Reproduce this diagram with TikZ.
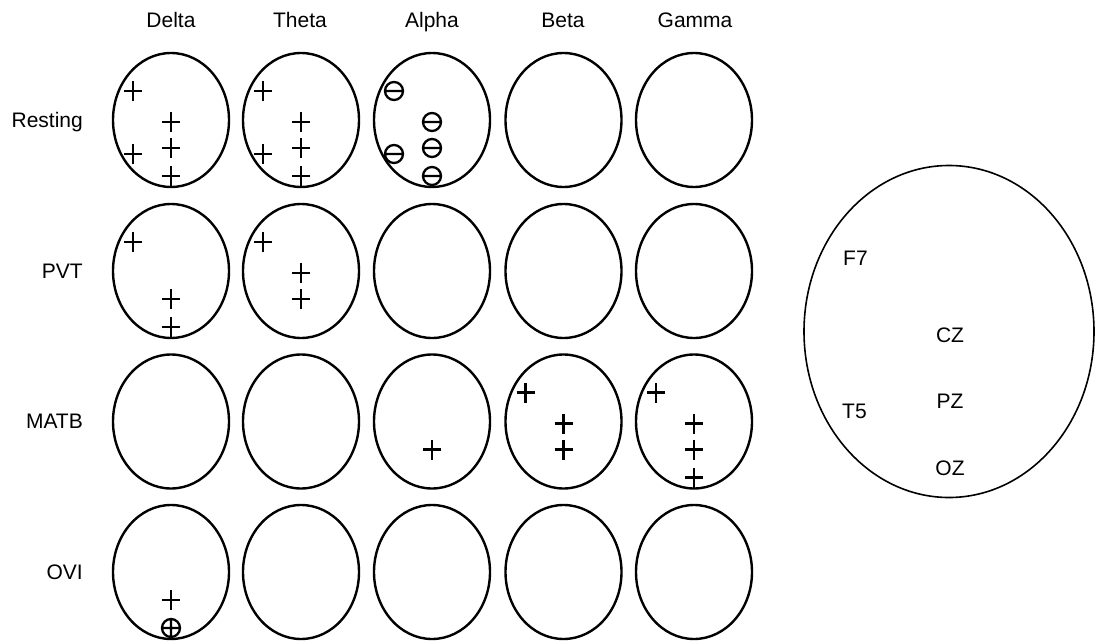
\documentclass[tikz,border=0pt]{standalone}
\usepackage{fontspec}
\setmainfont{Liberation Sans}
\usetikzlibrary{shapes.geometric}
\tikzset{
  head/.style={draw, ellipse, line width=2.4pt, minimum width=116pt, minimum height=134pt, inner sep=0pt},
  bighead/.style={draw, ellipse, line width=1.6pt, minimum width=290pt, minimum height=332pt, inner sep=0pt},
  lbl/.style={font=\fontsize{21}{24}\selectfont, inner sep=0pt},
  pls/.pic={\draw[line width=2.6pt] (-9pt,0)--(9pt,0) (0,-10pt)--(0,10pt);},
  mns/.pic={\draw[line width=2.3pt] (0,0) circle (9pt) (-9pt,0)--(9pt,0);},
  opls/.pic={\draw[line width=2.3pt] (0,0) circle (9pt) (-9pt,0)--(9pt,0) (0,-9pt)--(0,9pt);}
}
\newcommand\elec[3]{\path ([shift={#2}]#1.center) pic {#3};}
\def\Fs{(-38pt,29pt)}
\def\Cz{(0pt,-2pt)}
\def\Pz{(0pt,-28pt)}
\def\Tf{(-38pt,-34pt)}
\def\Oz{(0pt,-56pt)}
\begin{document}
\begin{tikzpicture}[x=1pt,y=-1pt]
\useasboundingbox (0,0) rectangle (1098,642);
% column headers
\node[lbl, anchor=base] (hDelta) at (171,28) {Delta};
\node[lbl, anchor=base] (hTheta) at (300,28) {Theta};
\node[lbl, anchor=base] (hAlpha) at (432,28) {Alpha};
\node[lbl, anchor=base] (hBeta) at (563,28) {Beta};
\node[lbl, anchor=base] (hGamma) at (695,28) {Gamma};
% row labels
\node[lbl, anchor=base east] (lRest) at (83,127) {Resting};
\node[lbl, anchor=base east] (lPVT) at (83,278) {PVT};
\node[lbl, anchor=base east] (lMATB) at (83,428) {MATB};
\node[lbl, anchor=base east] (lOVI) at (83,579) {OVI};
% heads
\foreach \r/\y in {1/120,2/271,3/421.5,4/572}{
  \foreach \c/\x in {1/171,2/301,3/432,4/563.5,5/694}{
    \node[head] (h\r\c) at (\x,\y) {};
  }
}
% Resting
\elec{h11}{\Fs}{pls}\elec{h11}{\Cz}{pls}\elec{h11}{\Tf}{pls}\elec{h11}{\Pz}{pls}\elec{h11}{\Oz}{pls}
\elec{h12}{\Fs}{pls}\elec{h12}{\Cz}{pls}\elec{h12}{\Tf}{pls}\elec{h12}{\Pz}{pls}\elec{h12}{\Oz}{pls}
\elec{h13}{\Fs}{mns}\elec{h13}{\Cz}{mns}\elec{h13}{\Tf}{mns}\elec{h13}{\Pz}{mns}\elec{h13}{\Oz}{mns}
% PVT
\elec{h21}{\Fs}{pls}\elec{h21}{\Pz}{pls}\elec{h21}{\Oz}{pls}
\elec{h22}{\Fs}{pls}\elec{h22}{\Cz}{pls}\elec{h22}{\Pz}{pls}
% MATB
\elec{h33}{\Pz}{pls}
\elec{h34}{\Fs}{pls}\elec{h34}{\Cz}{pls}\elec{h34}{\Pz}{pls}
\elec{h35}{\Fs}{pls}\elec{h35}{\Cz}{pls}\elec{h35}{\Pz}{pls}\elec{h35}{\Oz}{pls}
% OVI
\elec{h41}{\Pz}{pls}\elec{h41}{\Oz}{opls}
% reference head
\node[bighead] (ref) at (949,331.5) {};
\node[lbl, anchor=base west] (eF7) at (843,265) {F7};
\node[lbl, anchor=base] (eCZ) at (950,342) {CZ};
\node[lbl, anchor=base west] (eT5) at (842,418) {T5};
\node[lbl, anchor=base] (ePZ) at (950,408) {PZ};
\node[lbl, anchor=base] (eOZ) at (950,475) {OZ};
\end{tikzpicture}
\end{document}
